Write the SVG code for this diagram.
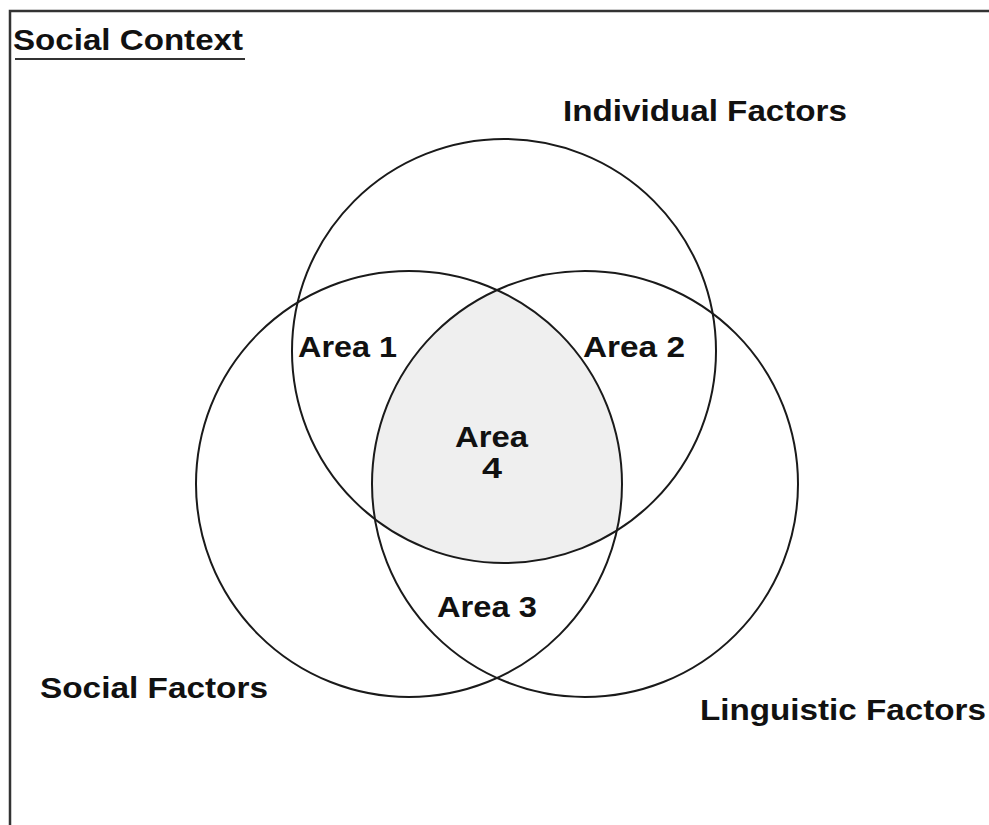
<svg xmlns="http://www.w3.org/2000/svg" width="989" height="825" viewBox="0 0 989 825">
<style>
.lbl{font-family:"Liberation Sans",Arial,sans-serif;font-weight:bold;font-size:30px;fill:#111}
.c{fill:none;stroke:#1a1a1a;stroke-width:2}
</style>
<defs>
<clipPath id="cs"><circle cx="409" cy="484" r="213"/></clipPath>
<clipPath id="cl"><circle cx="585" cy="484" r="213"/></clipPath>
</defs>
<rect width="989" height="825" fill="#fff"/>
<path d="M10,825 V11 H989" fill="none" stroke="#333" stroke-width="2.5"/>
<g id="title">
<text class="lbl" x="13" y="50" textLength="230" lengthAdjust="spacingAndGlyphs">Social Context</text>
<line x1="15" y1="59" x2="245" y2="59" stroke="#333" stroke-width="2"/>
</g>
<g id="shade" clip-path="url(#cs)"><g clip-path="url(#cl)"><circle cx="504" cy="351" r="212" fill="#efefef"/></g></g>
<g id="individual">
<circle class="c" cx="504" cy="351" r="212"/>
<text class="lbl" x="563" y="121" textLength="284" lengthAdjust="spacingAndGlyphs">Individual Factors</text>
</g>
<g id="social">
<circle class="c" cx="409" cy="484" r="213"/>
<text class="lbl" x="40" y="698" textLength="228" lengthAdjust="spacingAndGlyphs">Social Factors</text>
</g>
<g id="linguistic">
<circle class="c" cx="585" cy="484" r="213"/>
<text class="lbl" x="700" y="720" textLength="286" lengthAdjust="spacingAndGlyphs">Linguistic Factors</text>
</g>
<g id="area1"><text class="lbl" x="298" y="357" textLength="99" lengthAdjust="spacingAndGlyphs">Area 1</text></g>
<g id="area2"><text class="lbl" x="583" y="357" textLength="102" lengthAdjust="spacingAndGlyphs">Area 2</text></g>
<g id="area3"><text class="lbl" x="437" y="617" textLength="100" lengthAdjust="spacingAndGlyphs">Area 3</text></g>
<g id="area4">
<text class="lbl" x="455" y="447" textLength="73" lengthAdjust="spacingAndGlyphs">Area</text>
<text class="lbl" x="482" y="478" textLength="20" lengthAdjust="spacingAndGlyphs">4</text>
</g>
<g id="connectors"/>
</svg>
